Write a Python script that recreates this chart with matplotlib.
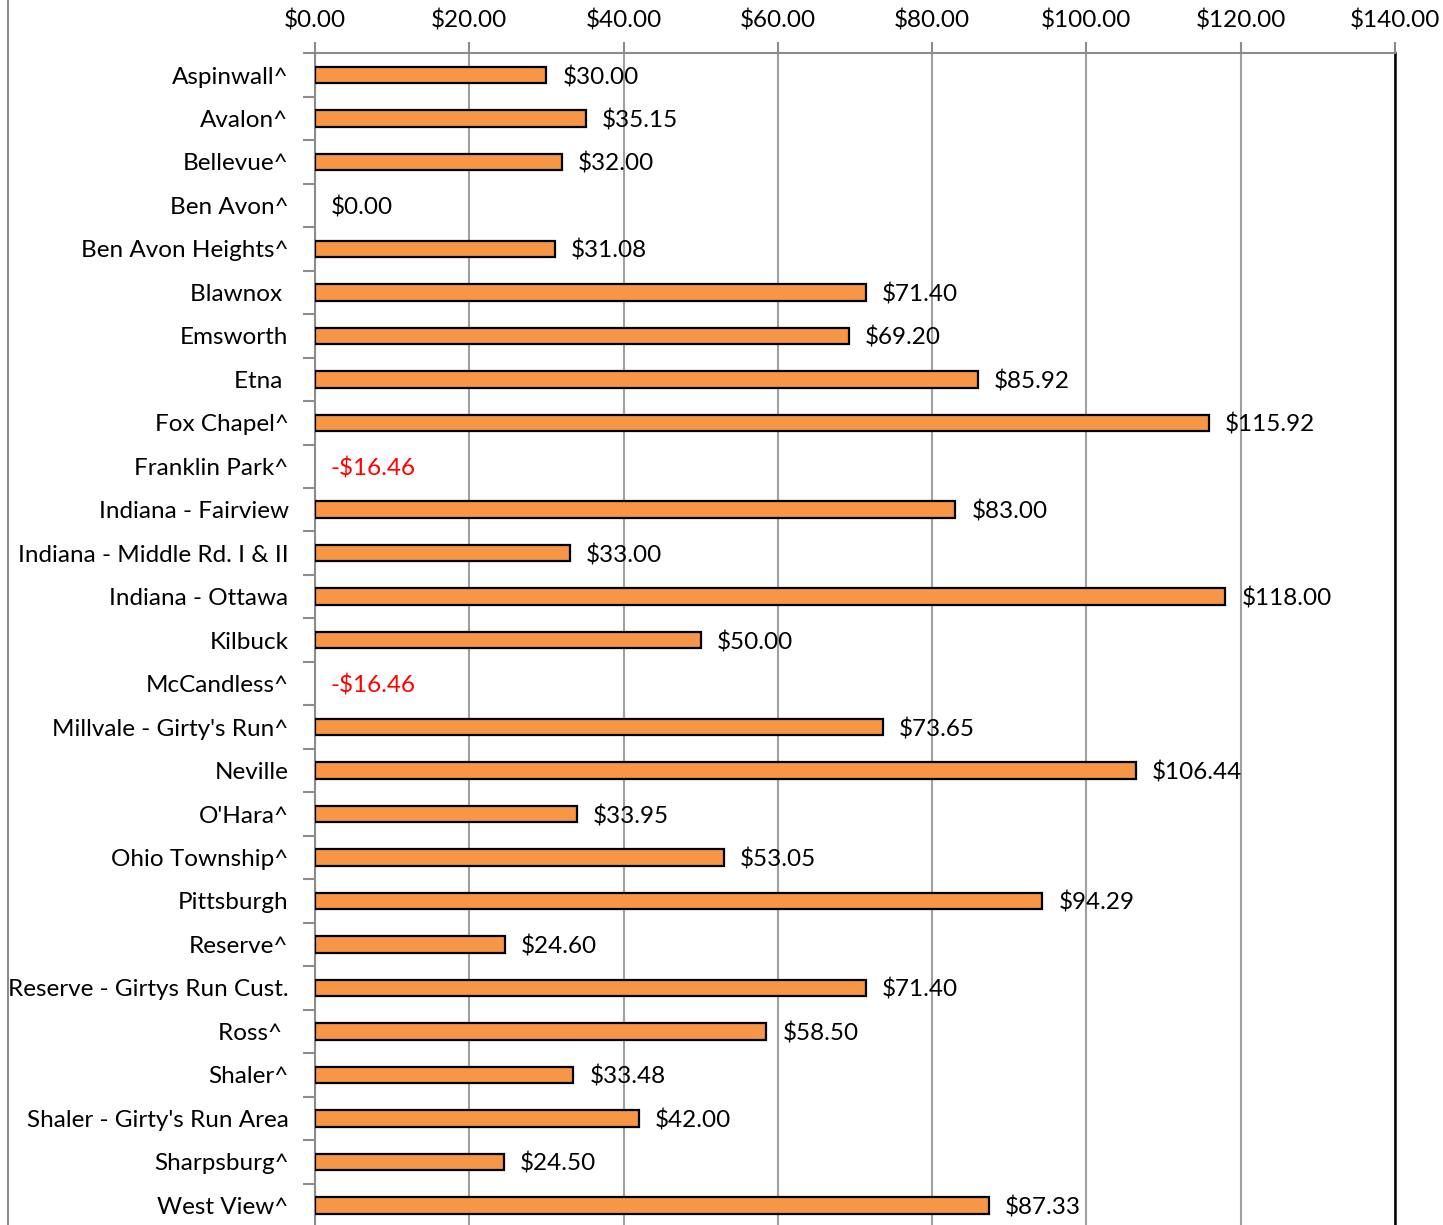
import matplotlib.pyplot as plt
from matplotlib.lines import Line2D

plt.rcParams['font.family'] = ['Lato', 'DejaVu Sans']

names = ["Aspinwall^", "Avalon^", "Bellevue^", "Ben Avon^", "Ben Avon Heights^",
         "Blawnox ", "Emsworth", "Etna ", "Fox Chapel^", "Franklin Park^",
         "Indiana - Fairview", "Indiana - Middle Rd. I & II", "Indiana - Ottawa",
         "Kilbuck", "McCandless^", "Millvale - Girty's Run^", "Neville", "O'Hara^",
         "Ohio Township^", "Pittsburgh", "Reserve^", "Reserve - Girtys Run Cust.",
         "Ross^ ", "Shaler^", "Shaler - Girty's Run Area", "Sharpsburg^", "West View^"]
values = [30.00, 35.15, 32.00, 0.00, 31.08, 71.40, 69.20, 85.92, 115.92, -16.46,
          83.00, 33.00, 118.00, 50.00, -16.46, 73.65, 106.44, 33.95, 53.05, 94.29,
          24.60, 71.40, 58.50, 33.48, 42.00, 24.50, 87.33]
xticks = [0, 20, 40, 60, 80, 100, 120, 140]

W, H = 1443, 1225
fs = 17.5
fig = plt.figure(figsize=(W / 100, H / 100), dpi=100)
ax = fig.add_axes([315 / W, 1 - 1227 / H, 1080 / W, (1227 - 53.3) / H])

n = len(names)
ypos = list(range(n))
# negative / zero values have no visible bar (axis starts at 0)
pos = [(y, v) for y, v in zip(ypos, values) if v > 0]
ax.barh([p[0] for p in pos], [p[1] for p in pos], height=0.38, color='#F79646',
        edgecolor='black', linewidth=1.6, zorder=3)

for y, v in zip(ypos, values):
    col = 'red' if v < 0 else 'black'
    txt = ('-$%.2f' % -v) if v < 0 else '$%.2f' % v
    ax.annotate(txt, (max(v, 0), y), xytext=(16, -2), textcoords='offset pixels',
                va='center', ha='left', fontsize=fs, color=col, zorder=4)

ax.set_xlim(0, 140)
ax.set_ylim(n - 0.5, -0.5)
ax.set_xticks(xticks)
ax.set_xticklabels(['$%.2f' % t for t in xticks])
ax.xaxis.tick_top()
ax.tick_params(axis='x', length=8, width=1.5, color='#8c8c8c', pad=8, labelsize=fs)
ax.grid(axis='x', color='#a0a0a0', linewidth=1.5, zorder=0)

ax.set_yticks([y - 0.5 for y in ypos], minor=False)
ax.set_yticklabels([])
ax.set_yticks(ypos, minor=True)
ax.set_yticklabels(names, minor=True)
ax.tick_params(axis='y', which='major', length=9, width=1.5, color='#8c8c8c')
ax.tick_params(axis='y', which='minor', length=0, pad=19, labelsize=fs)

ax.spines['bottom'].set_visible(False)
ax.spines['top'].set_color('#8c8c8c')
ax.spines['top'].set_linewidth(1.5)
ax.spines['left'].set_color('#8c8c8c')
ax.spines['left'].set_linewidth(1.5)
ax.spines['right'].set_color('black')
ax.spines['right'].set_linewidth(1.8)

fig.add_artist(Line2D([7.5 / W, 7.5 / W], [0, 1], color='#8c8c8c', linewidth=1.5))

fig.savefig('out.png', dpi=100)
